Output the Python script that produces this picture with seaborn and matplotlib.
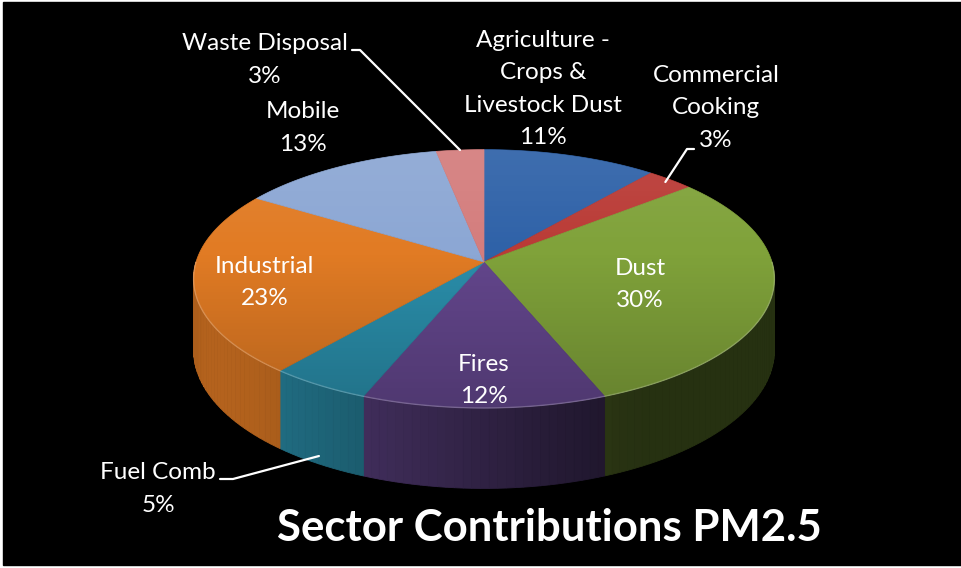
import numpy as np
import pandas as pd
import seaborn as sns
import matplotlib.pyplot as plt
from matplotlib.patches import Polygon, Rectangle

sectors = ["Agriculture -\nCrops &\nLivestock Dust", "Commercial\nCooking", "Dust", "Fires",
           "Fuel Comb", "Industrial", "Mobile", "Waste Disposal"]
shares = [11, 3, 30, 12, 5, 23, 13, 3]
slice_colors = ["#2F62A8", "#BA3B36", "#80A23A", "#63468C",
                "#2A8EAA", "#E17B24", "#8CA7D4", "#D47D7D"]
title = "Sector Contributions PM2.5"

df = pd.DataFrame({"sector": sectors, "share": shares})
df["end"] = 90 - 3.6 * df["share"].cumsum()
df["start"] = df["end"] + 3.6 * df["share"]
df["mid"] = (df["start"] + df["end"]) / 2
palette = sns.color_palette(slice_colors)

sns.set_theme(style="dark")
plt.rcParams["font.family"] = ["Lato", "DejaVu Sans"]

# 3d pie geometry in pixel space
CX, CY, RX, RY, DEPTH, K = 484, 262, 288, 127, 70, 0.13


def project(theta, r=1.0, z=0.0):
    t = np.radians(theta)
    f = -r * np.sin(t)
    w = 1 / (1 - K * f)
    return CX + RX * r * np.cos(t) * w, CY + (RY * f + DEPTH * z) * w


fig = plt.figure(figsize=(9.62, 5.68), dpi=100, facecolor="white")
ax = fig.add_axes([0, 0, 1, 1])
ax.set_xlim(0, 962)
ax.set_ylim(568, 0)
ax.axis("off")
ax.add_patch(Rectangle((3, 2), 962, 563, color="black", zorder=0))

# side walls (front half only), lit from the front-left
for i, row in df.iterrows():
    a1, a2 = max(row["end"], -180), min(row["start"], 0)
    if a1 >= a2:
        continue
    base = np.array(palette[i])
    edges = np.append(np.arange(a1, a2, 1.5), a2)
    for th0, th1 in zip(edges[:-1], edges[1:]):
        th = np.linspace(th0, th1, 4)
        xt, yt = project(th)
        xb, yb = project(th[::-1], z=1)
        light = max(0.0, np.cos(np.radians((th0 + th1) / 2 + 150)))
        shade = 0.3 + 0.5 * light ** 1.5
        col = np.clip(base * shade, 0, 1)
        ax.add_patch(Polygon(np.column_stack([np.r_[xt, xb], np.r_[yt, yb]]),
                             facecolor=col, edgecolor=col, lw=0.6, zorder=1))

# top faces
for i, row in df.iterrows():
    th = np.linspace(row["start"], row["end"], 60)
    xs, ys = project(th)
    pts = np.column_stack([np.r_[CX, xs], np.r_[CY, ys]])
    ax.add_patch(Polygon(pts, facecolor=palette[i], edgecolor=palette[i], lw=0.5, zorder=2))

# soft vertical shading on the top
rim_x, rim_y = project(np.linspace(0, 360, 361))
rim = Polygon(np.column_stack([rim_x, rim_y]), fill=False, lw=0, zorder=3)
ax.add_patch(rim)
u = np.linspace(0, 1, 200)
grad = np.zeros((200, 1, 4))
top_part = u < 0.4
grad[top_part, 0, :3] = 1
grad[top_part, 0, 3] = 0.08 * (1 - u[top_part] / 0.4)
grad[~top_part, 0, 3] = 0.2 * (u[~top_part] - 0.4) / 0.6
img = ax.imshow(grad, extent=(CX - RX - 10, CX + RX + 10, rim_y.max() + 2, rim_y.min() - 2),
                aspect="auto", zorder=3, interpolation="bilinear")
img.set_clip_path(rim)
fx, fy = project(np.linspace(-180, 0, 181))
ax.plot(fx, fy, color="white", alpha=0.22, lw=1.0, zorder=4)

# labels
inside = {"Dust": 0.55, "Fires": 0.8, "Industrial": 0.76}
outside = {"Agriculture -\nCrops &\nLivestock Dust": (543, 89),
           "Commercial\nCooking": (716, 108),
           "Mobile": (303, 128),
           "Waste Disposal": (265, 60),
           "Fuel Comb": (158, 489)}
leaders = {"Waste Disposal": ([352, 360], [50, 50], 1.0, 0.0),
           "Commercial\nCooking": ([694, 687], [149, 149], 0.97, 0.0),
           "Fuel Comb": ([220, 233], [479, 479], 1.0, 0.9)}

for i, row in df.iterrows():
    txt = f"{row['sector']}\n{row['share']}%"
    if row["sector"] in inside:
        x, y = project(row["mid"], inside[row["sector"]])
        y += 5
    else:
        x, y = outside[row["sector"]]
    ax.text(x, y, txt, ha="center", va="center", color="white", fontsize=17.5,
            linespacing=1.65, zorder=6)
    if row["sector"] in leaders:
        lx, ly, r, z = leaders[row["sector"]]
        ex, ey = project(row["mid"], r, z)
        ax.plot(lx + [ex], ly + [ey], color="white", lw=1.6, zorder=5)

ax.text(549, 528, title, ha="center", va="center", color="white", fontsize=31.5,
        fontweight="bold", zorder=6)

fig.savefig("out.png", dpi=100, facecolor=fig.get_facecolor())
